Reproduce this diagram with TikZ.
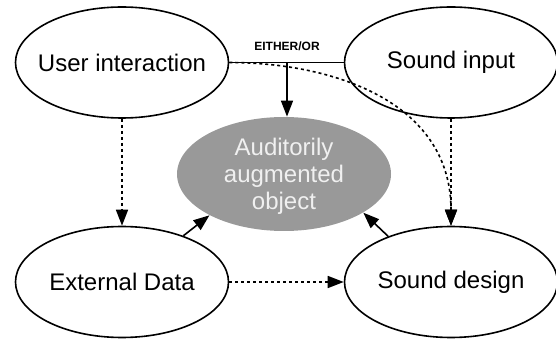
\documentclass[tikz,border=0pt]{standalone}
\usepackage{fontspec}
\setmainfont{Liberation Sans}
\usetikzlibrary{arrows.meta,shapes.geometric,calc}
\tikzset{
  bub/.style={ellipse, draw=black, line width=0.8pt, inner sep=0pt,
    minimum width=106.5pt, minimum height=55.5pt},
  mid/.style={ellipse, fill=black!40, draw=none, inner sep=0pt,
    minimum width=107pt, minimum height=57pt},
  txt/.style={font=\fontsize{12}{13.5}\selectfont, text=black},
  midtxt/.style={font=\fontsize{12}{13.5}\selectfont, text=black!6, align=center},
  small/.style={font=\fontsize{6}{7}\selectfont\bfseries, text=black},
  tip/.style={-{Triangle[length=8pt,width=6pt]}},
  solid line/.style={line width=0.8pt, tip},
  dash line/.style={line width=0.8pt, tip, dash pattern=on 1.5pt off 1.5pt},
}
\begin{document}
\begin{tikzpicture}[x=0.5pt,y=-0.5pt]
\useasboundingbox (0,0) rectangle (556,341);
\node[bub] (ui) at (122,62.5) {};
\node[txt] (uit) at (ui) {User interaction};
\node[bub] (si) at (451,62.5) {};
\node[txt] (sit) at (si) {Sound input};
\node[bub] (ed) at (122,282) {};
\node[txt] (edt) at (ed) {External Data};
\node[bub] (sd) at (451,282) {};
\node[txt] (sdt) at (sd) {Sound design};
\node[mid] (ao) at (284,174) {};
\node[midtxt] (aot) at (284,176) {Auditorily\\augmented\\object};
\node[small] (eo) at (287,46) {EITHER/OR};
\coordinate (j) at (287,63);
\draw[line width=0.8pt] (ui.east) -- (si.west);
\draw[solid line] (j) -- (j |- ao.north);
\draw[dash line] (ui.east) .. controls +(100,0) and +(0,-126) .. (sd.north);
\draw[dash line] (ui.south) -- (ed.north);
\draw[dash line] (si.south) -- (sd.north);
\draw[dash line] (ed.east) -- (sd.west);
\draw[solid line] (ed.37) -- (ao.209);
\draw[solid line] (sd.144) -- (ao.-26);
\end{tikzpicture}
\end{document}
